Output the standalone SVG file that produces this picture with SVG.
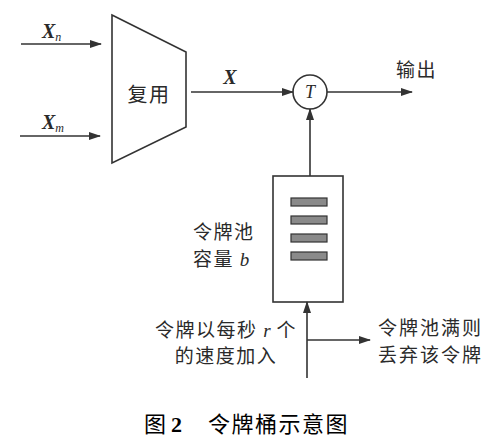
<svg xmlns="http://www.w3.org/2000/svg" width="504" height="447" viewBox="0 0 504 447">
<defs>
<marker id="ah" markerWidth="12" markerHeight="8" refX="11" refY="4" orient="auto" markerUnits="userSpaceOnUse">
<path d="M0,0 L12,4 L0,8 Z" fill="#333"/>
</marker>
<style>
.ln{stroke:#333;stroke-width:1.6;fill:none}
.cj{font-family:"Noto Sans CJK SC","Noto Sans",sans-serif;fill:#2a2a2a;font-size:19px;letter-spacing:1.5px}
.it{font-family:"Liberation Serif",serif;font-style:italic;fill:#2a2a2a;letter-spacing:0}
.bar{fill:#8a8a8a;stroke:#333;stroke-width:1.2}
</style>
</defs>
<rect width="504" height="447" fill="#fff"/>
<g id="connectors">
<line class="ln" x1="21" y1="44" x2="101" y2="44" marker-end="url(#ah)"/>
<line class="ln" x1="20" y1="136" x2="100" y2="136" marker-end="url(#ah)"/>
<line class="ln" x1="191" y1="92" x2="293" y2="92" marker-end="url(#ah)"/>
<line class="ln" x1="327" y1="92" x2="412" y2="92" marker-end="url(#ah)"/>
<line class="ln" x1="310" y1="176" x2="310" y2="109" marker-end="url(#ah)"/>
<line class="ln" x1="307" y1="378" x2="307" y2="302" marker-end="url(#ah)"/>
<line class="ln" x1="307" y1="340" x2="370" y2="340" marker-end="url(#ah)"/>
</g>
<g id="in-xn">
<text class="it" x="42" y="38" font-size="20" font-weight="bold">X<tspan font-size="12" font-weight="normal" dy="3">n</tspan></text>
</g>
<g id="in-xm">
<text class="it" x="42" y="129" font-size="20" font-weight="bold">X<tspan font-size="12" font-weight="normal" dy="3">m</tspan></text>
</g>
<g id="mux">
<path class="ln" d="M112,15 L186,52 L186,127 L112,163 Z"/>
<text class="cj" x="149" y="102" style="font-size:20px" text-anchor="middle">复用</text>
</g>
<g id="x-label">
<text class="it" x="230" y="84" font-size="20" font-weight="bold" text-anchor="middle">X</text>
</g>
<g id="t-node">
<circle class="ln" cx="310" cy="92" r="17"/>
<text class="it" x="310" y="98" font-size="18" text-anchor="middle">T</text>
</g>
<g id="output">
<text class="cj" x="396" y="77">输出</text>
</g>
<g id="bucket">
<rect class="ln" x="273" y="176" width="70" height="126"/>
<rect class="bar" x="291" y="198" width="36" height="8"/>
<rect class="bar" x="291" y="216" width="36" height="8"/>
<rect class="bar" x="291" y="234" width="36" height="8"/>
<rect class="bar" x="291" y="252" width="36" height="8"/>
</g>
<g id="bucket-label">
<text class="cj" x="193" y="239">令牌池</text>
<text class="cj" x="193" y="266">容量 <tspan class="it" font-size="19">b</tspan></text>
</g>
<g id="rate-label">
<text class="cj" x="297" y="337" text-anchor="end">令牌以每秒 <tspan class="it">r</tspan> 个</text>
<text class="cj" x="226" y="363" text-anchor="middle">的速度加入</text>
</g>
<g id="discard-label">
<text class="cj" x="378" y="335" style="letter-spacing:2px">令牌池满则</text>
<text class="cj" x="378" y="362" style="letter-spacing:2px">丢弃该令牌</text>
</g>
<g id="caption">
<text class="cj" x="144" y="432" style="font-size:22px;letter-spacing:0;fill:#000">图 <tspan font-family="Liberation Serif" font-weight="bold">2</tspan></text>
<text class="cj" x="208" y="432" style="font-size:22px;letter-spacing:1.5px;fill:#000">令牌桶示意图</text>
</g>
</svg>
